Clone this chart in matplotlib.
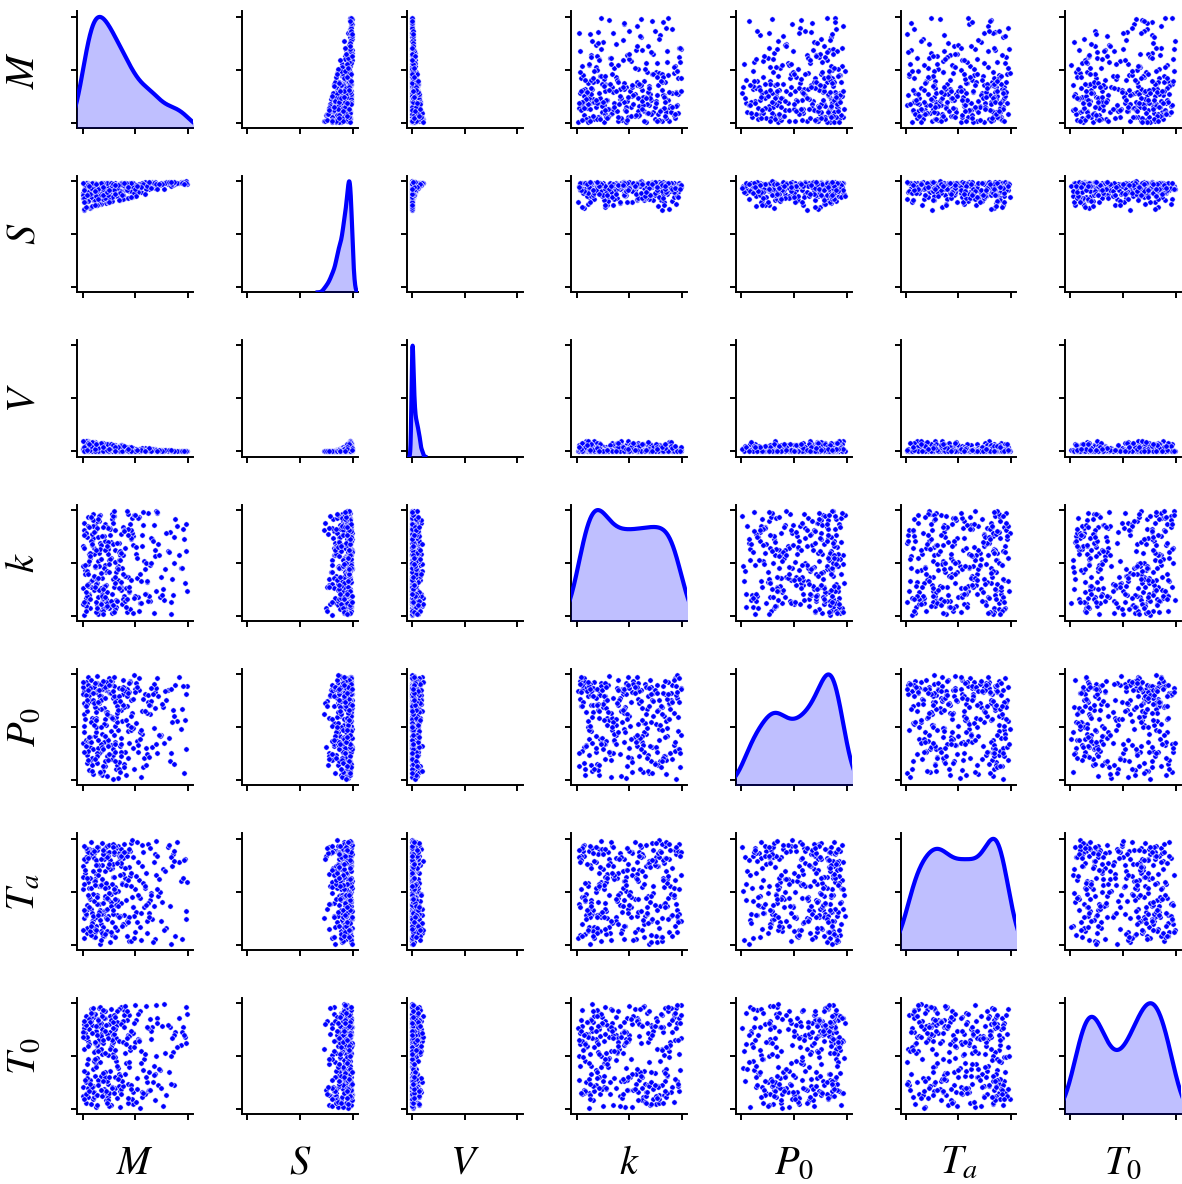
import numpy as np
import matplotlib
matplotlib.use("Agg")
import matplotlib.pyplot as plt

plt.rcParams['mathtext.fontset'] = 'stix'

# model outputs
M = [0.024, 0.071, 0.113, 0.182, 0.238, 0.334, 0.467, 0.521, 0.684, 0.826,
     0.043, 0.087, 0.128, 0.164, 0.209, 0.281, 0.306, 0.382, 0.434, 0.758,
     0.062, 0.117, 0.193, 0.224, 0.268, 0.359, 0.442, 0.583, 0.617, 0.968,
     0.004, 0.052, 0.098, 0.171, 0.262, 0.391, 0.406, 0.563, 0.642, 0.879,
     0.012, 0.079, 0.141, 0.153, 0.231, 0.293, 0.338, 0.371, 0.482, 0.719,
     0.031, 0.108, 0.159, 0.203, 0.247, 0.318, 0.461, 0.512, 0.693, 0.932,
     0.038, 0.058, 0.122, 0.187, 0.214, 0.352, 0.418, 0.539, 0.608, 0.811,
     0.019, 0.094, 0.103, 0.168, 0.221, 0.257, 0.302, 0.364, 0.451, 0.793,
     0.067, 0.138, 0.178, 0.232, 0.289, 0.327, 0.493, 0.571, 0.658, 0.991,
     0.009, 0.028, 0.132, 0.148, 0.279, 0.313, 0.397, 0.592, 0.672, 0.857,
     0.048, 0.083, 0.107, 0.191, 0.198, 0.273, 0.329, 0.388, 0.437, 0.742,
     0.092, 0.101, 0.173, 0.241, 0.263, 0.377, 0.426, 0.534, 0.629, 0.913,
     0.002, 0.041, 0.143, 0.158, 0.218, 0.341, 0.453, 0.548, 0.651, 0.842,
     0.057, 0.068, 0.119, 0.184, 0.252, 0.284, 0.322, 0.347, 0.412, 0.768,
     0.016, 0.127, 0.152, 0.211, 0.271, 0.368, 0.478, 0.557, 0.687, 0.951,
     0.033, 0.076, 0.112, 0.194, 0.287, 0.316, 0.472, 0.503, 0.601, 0.868,
     0.007, 0.049, 0.162, 0.137, 0.228, 0.201, 0.362, 0.309, 0.488, 0.731,
     0.081, 0.124, 0.169, 0.258, 0.243, 0.386, 0.421, 0.542, 0.638, 0.978,
     0.053, 0.091, 0.097, 0.177, 0.234, 0.379, 0.444, 0.566, 0.622, 0.893,
     0.061, 0.039, 0.147, 0.133, 0.274, 0.217, 0.343, 0.298, 0.459, 0.781,
     0.014, 0.066, 0.134, 0.176, 0.226, 0.356, 0.439, 0.527, 0.663, 0.848,
     0.035, 0.084, 0.118, 0.197, 0.236, 0.292, 0.311, 0.398, 0.476, 0.709,
     0.047, 0.106, 0.186, 0.207, 0.283, 0.344, 0.463, 0.597, 0.676, 0.938,
     0.006, 0.073, 0.109, 0.157, 0.249, 0.328, 0.484, 0.576, 0.612, 0.822,
     0.021, 0.097, 0.139, 0.183, 0.213, 0.269, 0.357, 0.384, 0.428, 0.752,
     0.011, 0.126, 0.174, 0.216, 0.296, 0.373, 0.407, 0.506, 0.698, 0.984,
     0.029, 0.088, 0.149, 0.192, 0.277, 0.362, 0.492, 0.558, 0.647, 0.863,
     0.051, 0.013, 0.144, 0.121, 0.237, 0.294, 0.332, 0.393, 0.417, 0.724,
     0.077, 0.114, 0.196, 0.229, 0.286, 0.308, 0.456, 0.518, 0.627, 0.962,
     0.044, 0.059, 0.131, 0.189, 0.246, 0.303, 0.431, 0.587, 0.704, 0.836]

S = [0.932, 0.745, 0.979, 0.888, 0.959, 0.858, 0.979, 0.942, 0.936, 0.977,
     0.845, 0.952, 0.775, 0.924, 0.981, 0.919, 0.855, 0.976, 0.917, 0.979,
     0.965, 0.880, 0.926, 0.796, 0.918, 0.985, 0.903, 0.968, 0.977, 0.974,
     0.891, 0.977, 0.817, 0.956, 0.876, 0.955, 0.839, 0.956, 0.985, 0.972,
     0.725, 0.916, 0.955, 0.861, 0.971, 0.900, 0.952, 0.985, 0.885, 0.962,
     0.977, 0.819, 0.908, 0.944, 0.803, 0.974, 0.947, 0.912, 0.949, 0.992,
     0.870, 0.965, 0.857, 0.981, 0.927, 0.825, 0.968, 0.898, 0.970, 0.970,
     0.949, 0.900, 0.938, 0.830, 0.891, 0.876, 0.984, 0.827, 0.946, 0.990,
     0.916, 0.861, 0.970, 0.914, 0.851, 0.963, 0.924, 0.967, 0.991, 0.970,
     0.801, 0.933, 0.882, 0.969, 0.810, 0.962, 0.930, 0.989, 0.965, 0.961,
     0.896, 0.752, 0.953, 0.926, 0.868, 0.982, 0.858, 0.913, 0.978, 0.977,
     0.966, 0.919, 0.785, 0.982, 0.896, 0.867, 0.958, 0.973, 0.929, 0.980,
     0.839, 0.977, 0.941, 0.782, 0.913, 0.975, 0.919, 0.955, 0.978, 0.952,
     0.934, 0.873, 0.821, 0.956, 0.982, 0.932, 0.885, 0.975, 0.931, 0.921,
     0.735, 0.954, 0.907, 0.869, 0.948, 0.910, 0.979, 0.900, 0.991, 0.987,
     0.977, 0.850, 0.920, 0.833, 0.973, 0.923, 0.853, 0.963, 0.938, 0.988,
     0.866, 0.808, 0.969, 0.941, 0.928, 0.957, 0.985, 0.883, 0.857, 0.963,
     0.951, 0.939, 0.864, 0.916, 0.801, 0.869, 0.944, 0.932, 0.985, 0.998,
     0.808, 0.900, 0.979, 0.888, 0.958, 0.832, 0.904, 0.983, 0.961, 0.986,
     0.915, 0.965, 0.884, 0.775, 0.848, 0.982, 0.952, 0.921, 0.905, 0.985,
     0.841, 0.915, 0.776, 0.956, 0.982, 0.908, 0.958, 0.894, 0.985, 0.974,
     0.949, 0.765, 0.880, 0.981, 0.841, 0.950, 0.922, 0.977, 0.948, 0.941,
     0.896, 0.968, 0.943, 0.836, 0.933, 0.824, 0.986, 0.925, 0.979, 0.980,
     0.977, 0.874, 0.953, 0.862, 0.803, 0.937, 0.886, 0.968, 0.951, 0.991,
     0.803, 0.937, 0.906, 0.970, 0.891, 0.982, 0.890, 0.966, 0.843, 0.971,
     0.911, 0.858, 0.981, 0.913, 0.961, 0.866, 0.977, 0.861, 0.975, 0.984,
     0.752, 0.978, 0.826, 0.926, 0.949, 0.975, 0.924, 0.946, 0.932, 0.988,
     0.965, 0.801, 0.923, 0.773, 0.873, 0.920, 0.963, 0.986, 0.915, 0.976,
     0.936, 0.904, 0.868, 0.892, 0.973, 0.962, 0.849, 0.952, 0.990, 0.972,
     0.870, 0.950, 0.968, 0.943, 0.916, 0.882, 0.944, 0.879, 0.926, 0.995]

V = [0.057, 0.001, 0.088, 0.014, 0.050, 0.002, 0.037, 0.012, 0.002, 0.005,
     0.010, 0.064, 0.003, 0.034, 0.074, 0.020, 0.002, 0.047, 0.008, 0.010,
     0.082, 0.016, 0.032, 0.001, 0.020, 0.057, 0.005, 0.017, 0.020, 0.001,
     0.030, 0.098, 0.002, 0.056, 0.007, 0.030, 0.002, 0.014, 0.022, 0.002,
     0.003, 0.038, 0.058, 0.008, 0.061, 0.012, 0.032, 0.056, 0.001, 0.006,
     0.101, 0.002, 0.025, 0.042, 0.004, 0.051, 0.019, 0.003, 0.004, 0.004,
     0.018, 0.082, 0.008, 0.077, 0.030, 0.001, 0.034, 0.001, 0.015, 0.003,
     0.071, 0.027, 0.050, 0.002, 0.013, 0.007, 0.062, 0.002, 0.019, 0.013,
     0.039, 0.008, 0.068, 0.021, 0.002, 0.041, 0.007, 0.018, 0.026, 0.001,
     0.003, 0.056, 0.015, 0.071, 0.003, 0.042, 0.015, 0.032, 0.010, 0.001,
     0.029, 0.004, 0.061, 0.032, 0.007, 0.067, 0.002, 0.009, 0.039, 0.010,
     0.078, 0.036, 0.001, 0.069, 0.013, 0.002, 0.027, 0.025, 0.003, 0.002,
     0.011, 0.099, 0.047, 0.003, 0.022, 0.049, 0.008, 0.014, 0.018, 0.001,
     0.055, 0.017, 0.002, 0.056, 0.069, 0.027, 0.006, 0.049, 0.015, 0.002,
     0.002, 0.060, 0.025, 0.007, 0.038, 0.010, 0.037, 0.001, 0.023, 0.002,
     0.100, 0.009, 0.036, 0.002, 0.055, 0.018, 0.003, 0.021, 0.006, 0.007,
     0.019, 0.003, 0.070, 0.047, 0.029, 0.051, 0.057, 0.006, 0.002, 0.006,
     0.065, 0.048, 0.008, 0.021, 0.004, 0.002, 0.020, 0.006, 0.022, 0.005,
     0.003, 0.027, 0.089, 0.014, 0.049, 0.001, 0.005, 0.029, 0.011, 0.005,
     0.040, 0.084, 0.015, 0.002, 0.002, 0.070, 0.033, 0.018, 0.005, 0.011,
     0.011, 0.039, 0.002, 0.056, 0.070, 0.010, 0.027, 0.001, 0.021, 0.003,
     0.069, 0.001, 0.016, 0.077, 0.002, 0.036, 0.018, 0.045, 0.018, 0.002,
     0.029, 0.075, 0.045, 0.002, 0.027, 0.001, 0.044, 0.003, 0.017, 0.001,
     0.102, 0.017, 0.061, 0.008, 0.001, 0.024, 0.001, 0.018, 0.009, 0.010,
     0.003, 0.051, 0.025, 0.068, 0.014, 0.068, 0.006, 0.038, 0.001, 0.007,
     0.041, 0.008, 0.081, 0.022, 0.045, 0.002, 0.042, 0.001, 0.012, 0.001,
     0.002, 0.093, 0.002, 0.032, 0.037, 0.048, 0.007, 0.010, 0.003, 0.007,
     0.083, 0.003, 0.034, 0.001, 0.007, 0.020, 0.041, 0.054, 0.009, 0.011,
     0.053, 0.026, 0.008, 0.013, 0.056, 0.042, 0.001, 0.015, 0.028, 0.001,
     0.018, 0.067, 0.073, 0.046, 0.021, 0.006, 0.020, 0.001, 0.001, 0.010]

# model inputs
k = [0.43, 0.07, 0.88, 0.21, 0.65, 0.34, 0.92, 0.18, 0.56, 0.79,
     0.12, 0.71, 0.29, 0.95, 0.48, 0.03, 0.62, 0.84, 0.37, 0.25,
     0.58, 0.86, 0.15, 0.41, 0.09, 0.77, 0.23, 0.52, 0.97, 0.31,
     0.26, 0.49, 0.73, 0.05, 0.83, 0.19, 0.38, 0.66, 0.14, 0.91,
     0.81, 0.33, 0.02, 0.59, 0.22, 0.94, 0.47, 0.11, 0.75, 0.68,
     0.17, 0.64, 0.89, 0.28, 0.53, 0.08, 0.72, 0.36, 0.99, 0.45,
     0.74, 0.21, 0.46, 0.13, 0.87, 0.57, 0.04, 0.93, 0.32, 0.61,
     0.39, 0.96, 0.24, 0.69, 0.16, 0.82, 0.51, 0.27, 0.06, 0.78,
     0.55, 0.10, 0.67, 0.84, 0.35, 0.43, 0.19, 0.98, 0.72, 0.23,
     0.01, 0.78, 0.31, 0.52, 0.91, 0.15, 0.64, 0.44, 0.86, 0.20,
     0.93, 0.27, 0.58, 0.08, 0.45, 0.70, 0.14, 0.81, 0.22, 0.37,
     0.34, 0.85, 0.11, 0.63, 0.76, 0.25, 0.96, 0.05, 0.49, 0.57,
     0.66, 0.42, 0.18, 0.94, 0.29, 0.53, 0.87, 0.12, 0.73, 0.02,
     0.20, 0.59, 0.80, 0.36, 0.07, 0.97, 0.45, 0.69, 0.26, 0.15,
     0.88, 0.13, 0.47, 0.71, 0.55, 0.24, 0.03, 0.33, 0.62, 0.82,
     0.09, 0.92, 0.37, 0.17, 0.68, 0.41, 0.78, 0.58, 0.21, 0.50,
     0.47, 0.28, 0.63, 0.89, 0.12, 0.75, 0.32, 0.06, 0.95, 0.18,
     0.71, 0.04, 0.26, 0.54, 0.83, 0.16, 0.99, 0.39, 0.48, 0.61,
     0.30, 0.67, 0.90, 0.11, 0.42, 0.57, 0.23, 0.76, 0.14, 0.85,
     0.52, 0.19, 0.74, 0.35, 0.96, 0.08, 0.60, 0.27, 0.81, 0.44,
     0.64, 0.16, 0.83, 0.40, 0.09, 0.53, 0.27, 0.92, 0.71, 0.35,
     0.22, 0.77, 0.46, 0.05, 0.58, 0.88, 0.31, 0.14, 0.67, 0.97,
     0.85, 0.38, 0.19, 0.62, 0.94, 0.26, 0.73, 0.50, 0.03, 0.45,
     0.11, 0.56, 0.79, 0.24, 0.41, 0.69, 0.17, 0.86, 0.33, 0.60,
     0.48, 0.90, 0.07, 0.75, 0.28, 0.14, 0.61, 0.39, 0.82, 0.20,
     0.76, 0.30, 0.54, 0.18, 0.99, 0.45, 0.08, 0.65, 0.23, 0.87,
     0.05, 0.68, 0.36, 0.84, 0.21, 0.59, 0.95, 0.12, 0.50, 0.74,
     0.39, 0.13, 0.91, 0.27, 0.70, 0.04, 0.44, 0.80, 0.16, 0.57,
     0.93, 0.47, 0.25, 0.66, 0.10, 0.81, 0.34, 0.55, 0.19, 0.72,
     0.29, 0.84, 0.62, 0.02, 0.49, 0.37, 0.76, 0.21, 0.98, 0.13]

P0 = [0.86, 0.31, 0.72, 0.05, 0.91, 0.47, 0.63, 0.27, 0.83, 0.18,
      0.24, 0.88, 0.59, 0.78, 0.13, 0.94, 0.36, 0.81, 0.52, 0.69,
      0.77, 0.42, 0.09, 0.85, 0.33, 0.66, 0.92, 0.21, 0.74, 0.57,
      0.35, 0.97, 0.82, 0.28, 0.61, 0.15, 0.87, 0.44, 0.71, 0.90,
      0.62, 0.19, 0.84, 0.73, 0.39, 0.89, 0.02, 0.56, 0.30, 0.79,
      0.93, 0.54, 0.26, 0.68, 0.83, 0.11, 0.76, 0.37, 0.87, 0.48,
      0.16, 0.80, 0.45, 0.91, 0.58, 0.32, 0.70, 0.96, 0.25, 0.85,
      0.71, 0.29, 0.88, 0.07, 0.64, 0.82, 0.51, 0.34, 0.94, 0.76,
      0.41, 0.92, 0.67, 0.23, 0.78, 0.55, 0.86, 0.12, 0.31, 0.89,
      0.84, 0.38, 0.98, 0.74, 0.20, 0.60, 0.27, 0.81, 0.49, 0.66,
      0.28, 0.75, 0.53, 0.87, 0.36, 0.95, 0.14, 0.69, 0.83, 0.43,
      0.59, 0.06, 0.79, 0.33, 0.90, 0.72, 0.46, 0.85, 0.22, 0.97,
      0.88, 0.65, 0.30, 0.80, 0.52, 0.17, 0.93, 0.39, 0.75, 0.26,
      0.10, 0.84, 0.70, 0.44, 0.96, 0.29, 0.63, 0.87, 0.57, 0.35,
      0.73, 0.50, 0.91, 0.18, 0.82, 0.40, 0.77, 0.03, 0.68, 0.89,
      0.32, 0.95, 0.58, 0.86, 0.24, 0.78, 0.48, 0.92, 0.14, 0.61,
      0.81, 0.37, 0.08, 0.67, 0.89, 0.53, 0.27, 0.74, 0.99, 0.42,
      0.55, 0.83, 0.34, 0.94, 0.19, 0.71, 0.86, 0.45, 0.62, 0.29,
      0.90, 0.21, 0.76, 0.50, 0.04, 0.88, 0.35, 0.65, 0.80, 0.56,
      0.39, 0.72, 0.85, 0.26, 0.60, 0.93, 0.11, 0.79, 0.47, 0.84,
      0.45, 0.87, 0.23, 0.76, 0.64, 0.08, 0.92, 0.33, 0.81, 0.55,
      0.80, 0.14, 0.69, 0.90, 0.38, 0.58, 0.27, 0.84, 0.49, 0.96,
      0.19, 0.73, 0.86, 0.42, 0.01, 0.79, 0.61, 0.30, 0.91, 0.67,
      0.93, 0.36, 0.52, 0.85, 0.25, 0.70, 0.11, 0.77, 0.63, 0.40,
      0.58, 0.82, 0.16, 0.31, 0.88, 0.46, 0.75, 0.95, 0.21, 0.72,
      0.27, 0.64, 0.91, 0.78, 0.43, 0.86, 0.05, 0.54, 0.34, 0.81,
      0.70, 0.09, 0.38, 0.94, 0.59, 0.23, 0.83, 0.47, 0.87, 0.15,
      0.85, 0.51, 0.74, 0.20, 0.32, 0.97, 0.66, 0.12, 0.79, 0.43,
      0.36, 0.92, 0.29, 0.62, 0.84, 0.18, 0.50, 0.88, 0.71, 0.07,
      0.76, 0.41, 0.57, 0.13, 0.90, 0.34, 0.82, 0.65, 0.26, 0.86]

Ta = [0.31, 0.84, 0.12, 0.57, 0.27, 0.93, 0.45, 0.78, 0.05, 0.36,
      0.88, 0.22, 0.67, 0.33, 0.91, 0.09, 0.54, 0.82, 0.26, 0.71,
      0.15, 0.62, 0.29, 0.86, 0.48, 0.74, 0.03, 0.35, 0.95, 0.81,
      0.52, 0.34, 0.89, 0.19, 0.77, 0.28, 0.63, 0.94, 0.42, 0.08,
      0.25, 0.97, 0.38, 0.70, 0.13, 0.85, 0.51, 0.58, 0.83, 0.46,
      0.79, 0.07, 0.55, 0.32, 0.87, 0.41, 0.96, 0.21, 0.66, 0.60,
      0.37, 0.90, 0.18, 0.75, 0.44, 0.27, 0.84, 0.61, 0.11, 0.92,
      0.68, 0.23, 0.86, 0.01, 0.33, 0.80, 0.50, 0.39, 0.88, 0.16,
      0.43, 0.76, 0.29, 0.93, 0.64, 0.14, 0.52, 0.87, 0.24, 0.59,
      0.06, 0.83, 0.47, 0.26, 0.72, 0.91, 0.19, 0.53, 0.36, 0.85,
      0.89, 0.34, 0.60, 0.10, 0.81, 0.40, 0.28, 0.95, 0.73, 0.22,
      0.20, 0.69, 0.55, 0.84, 0.02, 0.57, 0.88, 0.45, 0.30, 0.78,
      0.74, 0.11, 0.92, 0.38, 0.25, 0.86, 0.65, 0.17, 0.49, 0.83,
      0.53, 0.87, 0.07, 0.62, 0.94, 0.29, 0.42, 0.79, 0.56, 0.14,
      0.81, 0.26, 0.70, 0.46, 0.12, 0.90, 0.35, 0.04, 0.85, 0.63,
      0.28, 0.53, 0.82, 0.17, 0.76, 0.37, 0.99, 0.31, 0.68, 0.88,
      0.64, 0.59, 0.23, 0.89, 0.34, 0.08, 0.77, 0.93, 0.27, 0.50,
      0.09, 0.80, 0.56, 0.71, 0.54, 0.86, 0.22, 0.44, 0.91, 0.32,
      0.87, 0.30, 0.48, 0.13, 0.83, 0.67, 0.26, 0.74, 0.39, 0.97,
      0.45, 0.16, 0.75, 0.92, 0.21, 0.58, 0.84, 0.64, 0.03, 0.69,
      0.57, 0.13, 0.38, 0.81, 0.24, 0.66, 0.90, 0.47, 0.02, 0.74,
      0.29, 0.86, 0.60, 0.08, 0.43, 0.95, 0.17, 0.72, 0.35, 0.52,
      0.82, 0.41, 0.11, 0.69, 0.92, 0.26, 0.55, 0.37, 0.78, 0.05,
      0.14, 0.63, 0.88, 0.31, 0.49, 0.77, 0.06, 0.58, 0.22, 0.94,
      0.70, 0.27, 0.45, 0.96, 0.10, 0.36, 0.83, 0.19, 0.61, 0.40,
      0.33, 0.75, 0.04, 0.53, 0.87, 0.18, 0.42, 0.65, 0.98, 0.24,
      0.91, 0.20, 0.66, 0.39, 0.57, 0.84, 0.12, 0.30, 0.47, 0.79,
      0.47, 0.93, 0.28, 0.15, 0.73, 0.52, 0.36, 0.87, 0.08, 0.62,
      0.18, 0.56, 0.85, 0.44, 0.33, 0.07, 0.68, 0.97, 0.26, 0.80,
      0.63, 0.35, 0.14, 0.89, 0.76, 0.43, 0.21, 0.55, 0.84, 0.01]

T0 = [0.72, 0.18, 0.55, 0.91, 0.24, 0.81, 0.07, 0.66, 0.33, 0.77,
      0.15, 0.79, 0.42, 0.26, 0.86, 0.61, 0.20, 0.95, 0.70, 0.03,
      0.83, 0.31, 0.74, 0.12, 0.58, 0.22, 0.89, 0.47, 0.17, 0.68,
      0.21, 0.64, 0.09, 0.78, 0.36, 0.93, 0.53, 0.16, 0.85, 0.73,
      0.57, 0.94, 0.27, 0.69, 0.14, 0.76, 0.39, 0.82, 0.05, 0.23,
      0.88, 0.11, 0.63, 0.19, 0.80, 0.45, 0.71, 0.29, 0.98, 0.60,
      0.34, 0.75, 0.02, 0.52, 0.92, 0.17, 0.84, 0.65, 0.25, 0.79,
      0.67, 0.22, 0.87, 0.44, 0.08, 0.73, 0.30, 0.96, 0.56, 0.13,
      0.19, 0.59, 0.81, 0.26, 0.70, 0.10, 0.63, 0.37, 0.77, 0.90,
      0.76, 0.06, 0.48, 0.85, 0.21, 0.67, 0.97, 0.14, 0.32, 0.54,
      0.28, 0.83, 0.16, 0.62, 0.74, 0.04, 0.41, 0.89, 0.69, 0.20,
      0.93, 0.38, 0.71, 0.11, 0.57, 0.80, 0.24, 0.64, 0.18, 0.86,
      0.12, 0.68, 0.23, 0.95, 0.79, 0.33, 0.58, 0.01, 0.74, 0.50,
      0.61, 0.27, 0.90, 0.75, 0.15, 0.52, 0.82, 0.22, 0.43, 0.99,
      0.80, 0.13, 0.66, 0.35, 0.94, 0.19, 0.72, 0.55, 0.08, 0.77,
      0.25, 0.87, 0.46, 0.17, 0.63, 0.78, 0.09, 0.84, 0.30, 0.70,
      0.73, 0.20, 0.96, 0.60, 0.28, 0.86, 0.14, 0.49, 0.81, 0.37,
      0.05, 0.74, 0.31, 0.88, 0.51, 0.22, 0.67, 0.92, 0.18, 0.62,
      0.47, 0.91, 0.16, 0.69, 0.26, 0.83, 0.40, 0.11, 0.76, 0.58,
      0.85, 0.29, 0.78, 0.04, 0.65, 0.17, 0.94, 0.71, 0.23, 0.53,
      0.36, 0.82, 0.13, 0.57, 0.71, 0.02, 0.44, 0.90, 0.25, 0.67,
      0.79, 0.21, 0.62, 0.93, 0.08, 0.49, 0.75, 0.33, 0.16, 0.86,
      0.11, 0.54, 0.88, 0.30, 0.76, 0.64, 0.19, 0.97, 0.41, 0.73,
      0.68, 0.24, 0.45, 0.81, 0.03, 0.92, 0.58, 0.15, 0.77, 0.35,
      0.27, 0.95, 0.70, 0.12, 0.53, 0.84, 0.31, 0.63, 0.06, 0.78,
      0.83, 0.40, 0.18, 0.74, 0.89, 0.26, 0.61, 0.07, 0.50, 0.96,
      0.14, 0.72, 0.55, 0.34, 0.20, 0.80, 0.98, 0.43, 0.66, 0.23,
      0.59, 0.09, 0.84, 0.47, 0.67, 0.15, 0.28, 0.77, 0.92, 0.38,
      0.91, 0.63, 0.26, 0.06, 0.82, 0.56, 0.74, 0.19, 0.35, 0.70,
      0.42, 0.17, 0.78, 0.65, 0.30, 0.87, 0.10, 0.52, 0.81, 0.24]

labels = [r"$M$", r"$S$", r"$V$", r"$k$", r"$P_0$", r"$T_a$", r"$T_0$"]
columns = [M, S, V, k, P0, Ta, T0]
ticks = [0.0, 0.5, 1.0]


def gaussian_kde(values, grid):
    x = np.asarray(values, dtype=float)
    bw = x.std(ddof=1) * len(x) ** (-1 / 5)  # scott
    z = (grid[:, None] - x[None, :]) / bw
    return np.exp(-0.5 * z ** 2).sum(axis=1) / (len(x) * bw * np.sqrt(2 * np.pi)), bw


n = len(columns)
fig, axes = plt.subplots(n, n, figsize=(11.82, 11.84), dpi=100)
fig.subplots_adjust(left=0.0655, right=0.9992, bottom=0.0589, top=0.9904,
                    wspace=0.42, hspace=0.41)

for i in range(n):
    for j in range(n):
        ax = axes[i, j]
        ax.set_xlim(-0.05, 1.05)
        ax.set_ylim(-0.05, 1.05)
        ax.set_xticks(ticks)
        ax.set_yticks(ticks)
        ax.set_xticklabels([])
        ax.set_yticklabels([])
        ax.tick_params(length=4, width=1.4, color='black')
        ax.spines['top'].set_visible(False)
        ax.spines['right'].set_visible(False)
        ax.spines['left'].set_linewidth(1.4)
        ax.spines['bottom'].set_linewidth(1.4)

        if i == j:
            # diagonal: kernel density on its own y scale
            x = np.asarray(columns[j])
            _, bw = gaussian_kde(x, np.array([0.0]))
            grid = np.linspace(x.min() - 3 * bw, x.max() + 3 * bw, 400)
            dens, _ = gaussian_kde(x, grid)
            tw = ax.twinx()
            tw.fill_between(grid, dens, color='blue', alpha=0.25, lw=0)
            tw.plot(grid, dens, color='blue', lw=3)
            tw.set_ylim(0, dens.max() * 1.05)
            tw.set_xlim(-0.05, 1.05)
            tw.axis('off')
        else:
            ax.scatter(columns[j], columns[i], s=15, color='blue',
                       edgecolors='white', linewidths=0.4, zorder=3)

        if j == 0:
            ax.set_ylabel(labels[i], fontsize=29, labelpad=17)
        if i == n - 1:
            ax.set_xlabel(labels[j], fontsize=29, labelpad=13)

fig.savefig("out.png", dpi=100)
